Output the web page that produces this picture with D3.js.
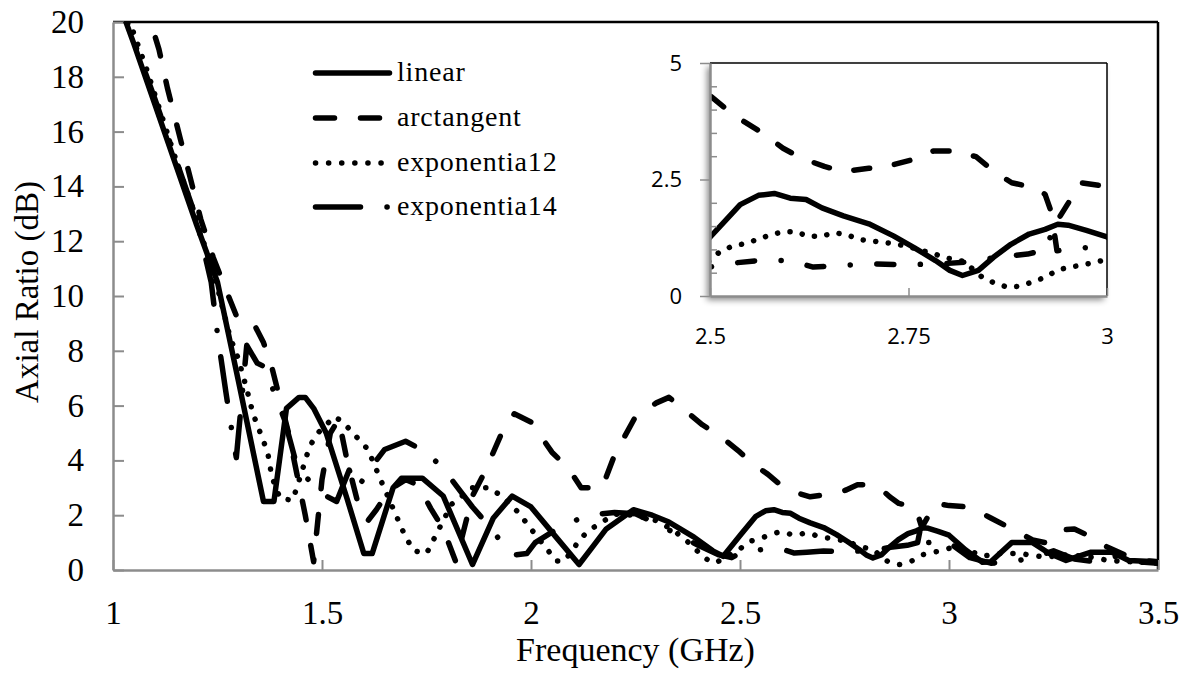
<!DOCTYPE html>
<html>
<head>
<meta charset="utf-8">
<script src="https://cdn.jsdelivr.net/npm/d3@7"></script>
<style>
  html, body { margin: 0; padding: 0; background: #fff; }
  svg { display: block; }
</style>
</head>
<body>
<svg id="chart" width="1185" height="681"></svg>
<script>
// ---- data: axial ratio (dB) against frequency (GHz) for four tapers ----
const seriesNames = ["linear", "arctangent", "exponentia12", "exponentia14"];

const linearF = [1.00,1.05,1.10,1.15,1.20,1.25,1.30,1.36,1.385,1.415,1.445,1.46,1.48,1.51,1.56,1.60,1.62,1.67,1.69,1.74,1.79,1.86,1.91,1.955,2.00,2.06,2.115,2.15,2.18,2.245,2.29,2.33,2.39,2.435,2.46,2.50,2.538,2.561,2.581,2.601,2.621,2.641,2.668,2.70,2.731,2.757,2.784,2.802,2.818,2.838,2.857,2.879,2.902,2.922,2.938,2.951,2.974,3.00,3.04,3.08,3.10,3.15,3.20,3.24,3.28,3.34,3.39,3.43,3.50];
const linearV = [21.3,19.2,17.0,14.8,12.6,10.5,6.9,2.5,2.5,5.9,6.3,6.3,5.9,5.0,2.6,0.6,0.6,3.0,3.35,3.35,2.7,0.2,1.9,2.7,2.3,1.2,0.2,0.9,1.5,2.2,2.0,1.75,1.2,0.7,0.5,1.26,1.96,2.16,2.2,2.1,2.07,1.89,1.72,1.55,1.29,1.04,0.76,0.55,0.44,0.55,0.83,1.11,1.33,1.43,1.54,1.52,1.41,1.27,0.73,0.28,0.3,1.0,1.0,0.6,0.35,0.65,0.65,0.35,0.3];

const arctanF = [1.07,1.09,1.11,1.13,1.16,1.19,1.21,1.24,1.28,1.30,1.34,1.36,1.38,1.40,1.42,1.44,1.46,1.48,1.50,1.52,1.54,1.56,1.59,1.61,1.63,1.66,1.70,1.73,1.76,1.79,1.82,1.84,1.86,1.89,1.93,1.96,2.00,2.05,2.09,2.12,2.17,2.20,2.25,2.30,2.33,2.37,2.41,2.46,2.50,2.52,2.543,2.567,2.592,2.615,2.644,2.668,2.70,2.727,2.754,2.781,2.808,2.835,2.858,2.88,2.91,2.922,2.935,2.95,2.967,3.00,3.05,3.10,3.15,3.20,3.23,3.27,3.30,3.33,3.37,3.42,3.46,3.50];
const arctanV = [21.0,20.0,19.0,17.6,15.8,14.0,12.8,11.4,9.85,9.1,8.9,8.3,7.4,6.2,5.0,3.5,2.0,0.3,3.3,5.0,5.5,4.0,2.2,1.8,2.2,2.9,3.3,3.1,2.25,1.5,0.3,1.5,2.7,3.6,5.0,5.7,5.4,4.3,3.7,3.0,3.0,4.2,5.6,6.1,6.3,5.8,5.3,4.8,4.3,4.02,3.74,3.49,3.17,2.96,2.78,2.67,2.74,2.8,2.92,3.11,3.11,2.99,2.67,2.43,2.32,2.18,1.55,1.96,2.43,2.35,2.3,1.9,1.5,1.1,1.0,1.46,1.5,1.28,0.9,0.55,0.35,0.3];

const exp2F = [1.02,1.04,1.08,1.15,1.20,1.25,1.28,1.30,1.32,1.335,1.35,1.37,1.38,1.40,1.43,1.45,1.47,1.49,1.53,1.55,1.58,1.61,1.64,1.68,1.70,1.72,1.75,1.77,1.81,1.86,1.90,1.93,1.97,2.00,2.04,2.06,2.08,2.12,2.14,2.17,2.20,2.25,2.30,2.34,2.39,2.41,2.44,2.47,2.50,2.513,2.527,2.545,2.561,2.576,2.592,2.608,2.624,2.64,2.657,2.673,2.689,2.704,2.72,2.736,2.754,2.77,2.785,2.80,2.82,2.843,2.858,2.875,2.89,2.906,2.922,2.938,2.954,2.97,2.985,3.00,3.05,3.08,3.12,3.17,3.23,3.28,3.33,3.38,3.44,3.50];
const exp2V = [21.0,20.0,18.3,15.0,12.8,10.3,8.5,7.7,6.6,5.7,5.1,4.3,3.4,2.6,2.55,3.5,4.5,5.0,5.6,5.4,4.9,4.4,3.3,1.9,1.2,0.7,0.6,1.2,2.4,3.0,3.0,2.7,2.1,1.5,0.73,0.33,0.33,1.17,1.46,1.75,2.04,2.0,1.8,1.46,0.84,0.47,0.25,0.5,0.76,0.96,1.06,1.13,1.22,1.31,1.38,1.38,1.28,1.28,1.36,1.31,1.21,1.18,1.15,1.11,1.04,0.96,0.89,0.81,0.74,0.4,0.28,0.19,0.21,0.3,0.4,0.56,0.62,0.67,0.72,0.79,0.7,0.5,0.6,0.6,0.47,0.55,0.5,0.35,0.3,0.25];

const exp4F = [1.00,1.05,1.10,1.15,1.20,1.235,1.25,1.27,1.285,1.295,1.32,1.345,1.365,1.38,1.41,1.44,1.46,1.49,1.51,1.535,1.565,1.585,1.62,1.65,1.70,1.75,1.79,1.825,1.86,1.90,1.93,1.96,1.99,2.01,2.07,2.12,2.17,2.20,2.25,2.30,2.35,2.40,2.45,2.48,2.50,2.52,2.56,2.60,2.63,2.66,2.70,2.75,2.80,2.83,2.86,2.90,2.925,2.932,2.937,2.97,3.00,3.05,3.10,3.15,3.20,3.25,3.30,3.35,3.40,3.45,3.50];
const exp4V = [21.5,19.3,17.2,15.0,12.8,10.5,8.6,6.5,5.0,4.1,8.2,7.55,7.4,6.7,5.5,3.8,3.4,3.0,2.7,2.5,3.65,3.0,3.8,4.4,4.7,4.3,3.7,3.0,2.3,1.6,1.0,0.55,0.6,1.0,1.57,1.9,2.05,2.1,2.05,1.7,1.3,0.9,0.55,0.45,0.62,0.69,0.76,0.76,0.62,0.65,0.69,0.67,0.7,0.74,0.83,0.9,1.0,1.55,0.97,1.04,1.0,0.45,0.25,0.3,0.45,0.7,0.4,0.3,0.5,0.3,0.25];

const xTicks = [1, 1.5, 2, 2.5, 3, 3.5];
const xTickLabels = ["1", "1.5", "2", "2.5", "3", "3.5"];
const yTicks = [0, 2, 4, 6, 8, 10, 12, 14, 16, 18, 20];
const insetXTicks = [2.5, 2.75, 3];
const insetXTickLabels = ["2.5", "2.75", "3"];
const insetYTicks = [0, 2.5, 5];
const insetYTickLabels = ["0", "2.5", "5"];
const insetYMinor = [0.5, 1, 1.5, 2, 3, 3.5, 4, 4.5];

const SERIF = '"Liberation Serif", "Times New Roman", Times, serif';
const SANS = '"Open Sans", "Liberation Sans", Arial, sans-serif';
const LINE_W = 5.5;

// ---- build series ----
const zip = (f, v) => f.map((d, i) => ({f: d, v: v[i]}));
const series = [
  {name: seriesNames[0], pts: zip(linearF, linearV), dash: null, insetDash: null},
  {name: seriesNames[1], pts: zip(arctanF, arctanV), dash: "19,26", insetDash: "16,25"},
  {name: seriesNames[2], pts: zip(exp2F, exp2V), dash: "0.1,13", insetDash: "0.1,12.5"},
  {name: seriesNames[3], pts: zip(exp4F, exp4V), dash: "45,26.5,0.1,26.5", insetDash: "17,26.5,0.1,26.5"}
];

const svg = d3.select("#chart");
svg.append("rect").attr("width", 1185).attr("height", 681).attr("fill", "#fff");

// ---- main plot ----
const M = {left: 113, right: 1158, top: 22, bottom: 570};
const x = d3.scaleLinear().domain([1, 3.5]).range([M.left, M.right]);
const y = d3.scaleLinear().domain([0, 20]).range([M.bottom, M.top]);

const defs = svg.append("defs");
defs.append("clipPath").attr("id", "clipMain")
  .append("rect").attr("x", M.left).attr("y", M.top)
  .attr("width", M.right - M.left).attr("height", M.bottom - M.top);

const shadow = defs.append("filter").attr("id", "insetShadow")
  .attr("x", "-10%").attr("y", "-10%").attr("width", "125%").attr("height", "130%");
shadow.append("feDropShadow").attr("dx", -3).attr("dy", 4).attr("stdDeviation", 3)
  .attr("flood-color", "#000").attr("flood-opacity", 0.45);

const axisGray = "#8c8c8c";

// frame: black top and right edges
svg.append("line").attr("x1", M.left).attr("x2", M.right).attr("y1", M.top).attr("y2", M.top)
  .attr("stroke", "#000").attr("stroke-width", 2.5);
svg.append("line").attr("x1", M.right).attr("x2", M.right).attr("y1", M.top).attr("y2", M.bottom)
  .attr("stroke", "#000").attr("stroke-width", 2.5);

const yAxis = svg.append("g").attr("transform", `translate(${M.left},0)`)
  .call(d3.axisLeft(y).tickValues(yTicks).tickSizeInner(-11).tickSizeOuter(0).tickPadding(29));
const xAxis = svg.append("g").attr("transform", `translate(0,${M.bottom})`)
  .call(d3.axisBottom(x).tickValues(xTicks).tickFormat((d, i) => xTickLabels[i])
    .tickSizeInner(-10).tickSizeOuter(0).tickPadding(31));
[yAxis, xAxis].forEach(g => {
  g.attr("font-family", SERIF).attr("font-size", 33);
  g.select(".domain").attr("stroke", axisGray).attr("stroke-width", 2.5);
  g.selectAll(".tick line").attr("stroke", axisGray).attr("stroke-width", 2);
  g.selectAll(".tick text").attr("fill", "#000")
    .style("font-family", SERIF).style("font-size", "33px");
});

const line = d3.line().x(d => x(d.f)).y(d => y(d.v));
const gMain = svg.append("g").attr("clip-path", "url(#clipMain)");
series.forEach(s => {
  gMain.append("path").datum(s.pts)
    .attr("d", line)
    .attr("fill", "none").attr("stroke", "#000").attr("stroke-width", LINE_W)
    .attr("stroke-linecap", "round").attr("stroke-linejoin", "round")
    .attr("stroke-dasharray", s.dash);
});

// axis titles
svg.append("text")
  .attr("x", (M.left + M.right) / 2).attr("y", 661)
  .attr("text-anchor", "middle")
  .style("font-family", SERIF).style("font-size", "34px").attr("fill", "#000")
  .text("Frequency (GHz)");
svg.append("text")
  .attr("transform", "translate(38,292) rotate(-90)")
  .attr("text-anchor", "middle")
  .style("font-family", SERIF).style("font-size", "33px").attr("fill", "#000")
  .text("Axial Ratio (dB)");

// ---- legend ----
const legendRows = [73, 118, 163, 207];
const lg = svg.append("g");
series.forEach((s, i) => {
  lg.append("line")
    .attr("x1", 315.5).attr("x2", 389.5).attr("y1", legendRows[i]).attr("y2", legendRows[i])
    .attr("stroke", "#000").attr("stroke-width", LINE_W).attr("stroke-linecap", "round")
    .attr("stroke-dasharray", s.dash);
  lg.append("text")
    .attr("x", 397).attr("y", legendRows[i] + 8)
    .style("font-family", SERIF).style("font-size", "28px").style("letter-spacing", "0.8px")
    .attr("fill", "#000")
    .text(s.name);
});

// ---- inset: 2.5 - 3 GHz detail ----
const I = {left: 710, right: 1107, top: 63, bottom: 296};
const ix = d3.scaleLinear().domain([2.5, 3]).range([I.left, I.right]);
const iy = d3.scaleLinear().domain([0, 5]).range([I.bottom, I.top]);

defs.append("clipPath").attr("id", "clipInset")
  .append("rect").attr("x", I.left).attr("y", I.top)
  .attr("width", I.right - I.left).attr("height", I.bottom - I.top);

svg.append("rect").attr("x", I.left).attr("y", I.top)
  .attr("width", I.right - I.left).attr("height", I.bottom - I.top)
  .attr("fill", "#fff").attr("filter", "url(#insetShadow)");

const iline = d3.line().x(d => ix(d.f)).y(d => iy(d.v));
const gInset = svg.append("g").attr("clip-path", "url(#clipInset)");
series.forEach(s => {
  gInset.append("path").datum(s.pts.filter(d => d.f >= 2.45 && d.f <= 3.05))
    .attr("d", iline)
    .attr("fill", "none").attr("stroke", "#000").attr("stroke-width", LINE_W)
    .attr("stroke-linecap", "round").attr("stroke-linejoin", "round")
    .attr("stroke-dasharray", s.insetDash);
});

svg.append("line").attr("x1", I.left).attr("x2", I.right).attr("y1", I.top).attr("y2", I.top)
  .attr("stroke", "#000").attr("stroke-width", 1.5);
svg.append("line").attr("x1", I.right).attr("x2", I.right).attr("y1", I.top).attr("y2", I.bottom)
  .attr("stroke", "#000").attr("stroke-width", 1.5);

const iyAxis = svg.append("g").attr("transform", `translate(${I.left},0)`)
  .call(d3.axisLeft(iy).tickValues(insetYTicks).tickFormat((d, i) => insetYTickLabels[i])
    .tickSizeInner(10).tickSizeOuter(0).tickPadding(18));
const iyMinor = svg.append("g").attr("transform", `translate(${I.left},0)`)
  .call(d3.axisRight(iy).tickValues(insetYMinor).tickFormat("").tickSizeInner(7).tickSizeOuter(0));
iyMinor.select(".domain").remove();
const ixAxis = svg.append("g").attr("transform", `translate(0,${I.bottom})`)
  .call(d3.axisBottom(ix).tickValues(insetXTicks).tickFormat((d, i) => insetXTickLabels[i])
    .tickSizeInner(-8).tickSizeOuter(0).tickPadding(32));
[iyAxis, ixAxis, iyMinor].forEach(g => {
  g.attr("font-family", SANS).attr("font-size", 22);
  g.select(".domain").attr("stroke", axisGray).attr("stroke-width", 2.5);
  g.selectAll(".tick line").attr("stroke", axisGray).attr("stroke-width", 1.5);
  g.selectAll(".tick text").attr("fill", "#000")
    .style("font-family", SANS).style("font-size", "22px");
});
</script>
</body>
</html>
